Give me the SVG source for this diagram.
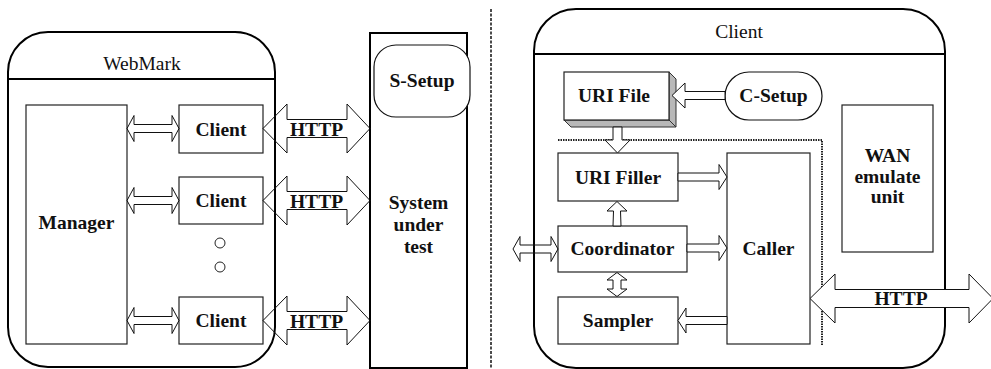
<svg xmlns="http://www.w3.org/2000/svg" width="991" height="369" viewBox="0 0 991 369">
<style>
.outer{fill:#fff;stroke:#000;stroke-width:2}
.box{fill:#fff;stroke:#222;stroke-width:1.2}
.arr{fill:none;stroke:#111;stroke-width:1}
.arrw{fill:#fff;stroke:#111;stroke-width:1}
text{font-family:"Liberation Serif",serif;font-size:19.5px;fill:#111;text-anchor:middle}
.b{font-weight:700}
</style>
<rect width="991" height="369" fill="#fff"/>

<g id="webmark">
<rect class="outer" x="8" y="32" width="267" height="335" rx="40" ry="40"/>
<line x1="8" y1="79" x2="275" y2="79" stroke="#000" stroke-width="2"/>
<text x="142" y="70">WebMark</text>
</g>
<g id="manager">
<rect class="box" x="26" y="105" width="101" height="239"/>
<text class="b" x="76.5" y="229">Manager</text>
</g>
<g id="client1">
<rect class="box" x="179" y="105" width="84" height="48"/>
<text class="b" x="221" y="135.5">Client</text>
</g>
<g id="client2">
<rect class="box" x="179" y="177" width="84" height="47"/>
<text class="b" x="221" y="207">Client</text>
</g>
<g id="client3">
<rect class="box" x="179" y="297" width="84" height="47"/>
<text class="b" x="221" y="327">Client</text>
</g>
<g id="dots">
<circle cx="220" cy="243" r="5" fill="#fff" stroke="#222" stroke-width="1"/>
<circle cx="220" cy="267" r="5" fill="#fff" stroke="#222" stroke-width="1"/>
</g>
<g id="sut">
<rect x="370" y="33" width="97" height="335" fill="#fff" stroke="#000" stroke-width="2"/>
<text class="b" x="418.5" y="209">System</text>
<text class="b" x="418.5" y="231">under</text>
<text class="b" x="418.5" y="253">test</text>
</g>
<g id="s-setup">
<rect x="374" y="45" width="96" height="72" rx="22" ry="22" fill="#fff" stroke="#111" stroke-width="1.2"/>
<text class="b" x="422" y="87">S-Setup</text>
</g>

<line x1="491" y1="9" x2="491" y2="369" stroke="#111" stroke-width="1.5" stroke-dasharray="3 1.5"/>

<g id="client-panel">
<rect class="outer" x="534" y="9" width="411" height="359" rx="42" ry="42"/>
<line x1="534" y1="54" x2="945" y2="54" stroke="#000" stroke-width="2"/>
<text x="739" y="38">Client</text>
</g>
<g id="uri-file">
<polygon points="669,72 676,79 676,127 669,120" fill="#b8b8b8" stroke="#333" stroke-width="1"/>
<polygon points="564,120 571,127 676,127 669,120" fill="#b8b8b8" stroke="#333" stroke-width="1"/>
<rect class="box" x="564" y="72" width="105" height="48"/>
<text class="b" x="614" y="102">URI File</text>
</g>
<g id="c-setup">
<rect x="725" y="72" width="97" height="48" rx="24" ry="24" fill="#fff" stroke="#111" stroke-width="1.2"/>
<text class="b" x="773.5" y="102">C-Setup</text>
</g>
<polyline points="558,140 822,140 822,345" fill="none" stroke="#222" stroke-width="2" stroke-dasharray="1.5 1"/>
<g id="uri-filler">
<rect class="box" x="558" y="153" width="120" height="48"/>
<text class="b" x="618" y="184">URI Filler</text>
</g>
<g id="coordinator">
<rect class="box" x="558" y="226" width="129" height="46"/>
<text class="b" x="622.5" y="255">Coordinator</text>
</g>
<g id="sampler">
<rect class="box" x="558" y="297" width="120" height="47"/>
<text class="b" x="618" y="327">Sampler</text>
</g>
<g id="caller">
<rect class="box" x="727" y="153" width="83" height="191"/>
<text class="b" x="768.5" y="255">Caller</text>
</g>
<g id="wan">
<rect class="box" x="842" y="105" width="91" height="147"/>
<text class="b" x="887.5" y="162">WAN</text>
<text class="b" x="887.5" y="182.5">emulate</text>
<text class="b" x="887.5" y="203">unit</text>
</g>

<g id="connectors">
<polygon class="arr" points="127,128.5 134,115.5 134,124.5 172,124.5 172,115.5 179,128.5 172,141.5 172,132.5 134,132.5 134,141.5"/>
<polygon class="arr" points="127,200.5 134,187.5 134,196.5 172,196.5 172,187.5 179,200.5 172,213.5 172,204.5 134,204.5 134,213.5"/>
<polygon class="arr" points="127,320.5 134,307.5 134,316.5 172,316.5 172,307.5 179,320.5 172,333.5 172,324.5 134,324.5 134,333.5"/>
<polygon class="arr" points="263,128.5 287,104 287,119.5 347,119.5 347,104 370,128.5 347,153 347,137.5 287,137.5 287,153"/>
<text class="b" x="316.5" y="135.5">HTTP</text>
<polygon class="arr" points="263,200.5 287,176 287,191.5 347,191.5 347,176 370,200.5 347,225 347,209.5 287,209.5 287,225"/>
<text class="b" x="316.5" y="207.5">HTTP</text>
<polygon class="arr" points="263,320.5 287,296 287,311.5 347,311.5 347,296 370,320.5 347,345 347,329.5 287,329.5 287,345"/>
<text class="b" x="316.5" y="327.5">HTTP</text>
<polygon class="arrw" points="672,95.5 685,83 685,91.5 725,91.5 725,99.5 685,99.5 685,108"/>
<polygon class="arrw" points="613,127 622,127 622,140 630,140 617.5,153 605,140 613,140"/>
<polygon class="arrw" points="678,173 719,173 719,164.5 727,177 719,189.5 719,181 678,181"/>
<polygon class="arrw" points="613,226 621,226 620.5,211 627,211 617,201.5 607,211 613.5,211"/>
<polygon class="arrw" points="617,272.5 627,280 621,280 621,289 627,289 617,296.5 607,289 613,289 613,280 607,280"/>
<polygon class="arrw" points="687,244 719,244 719,235.5 727,248 719,260.5 719,252 687,252"/>
<polygon class="arrw" points="678,320.5 686,308 686,316.5 727,316.5 727,324.5 686,324.5 686,333"/>
<polygon class="arr" points="513,249 520,236.5 520,245 551,245 551,236.5 558,249 551,261.5 551,253 520,253 520,261.5"/>
<polygon class="arrw" points="810,298.5 835,274 835,289.5 969,289.5 969,274 993,298.5 969,323 969,307.5 835,307.5 835,323"/>
<text class="b" x="901" y="305">HTTP</text>
</g>
</svg>
